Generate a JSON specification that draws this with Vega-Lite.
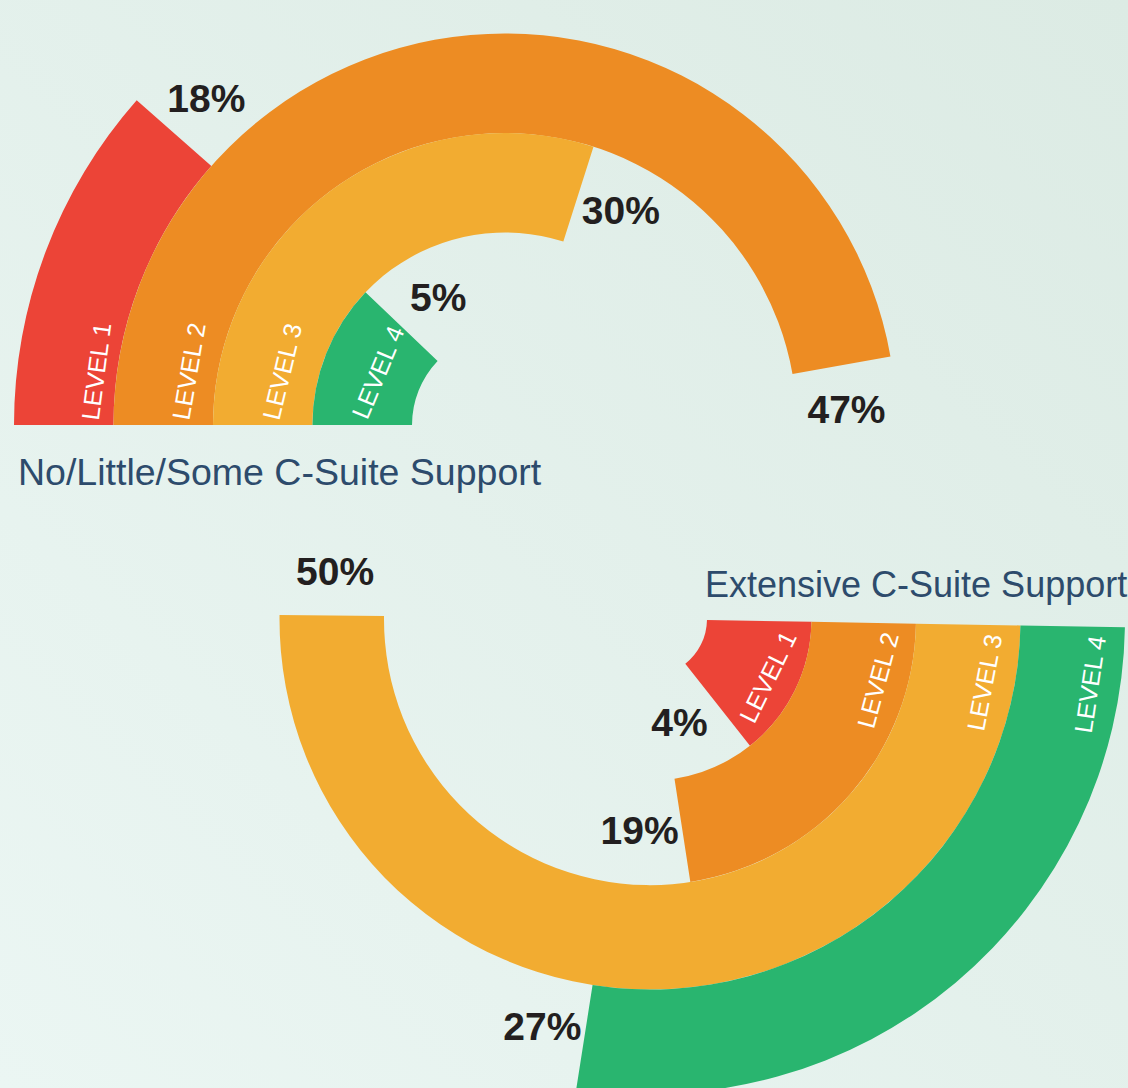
{
  "$schema": "https://vega.github.io/schema/vega-lite/v6.json",
  "width": 1128,
  "height": 1088,
  "padding": 0,
  "autosize": {"type": "none"},
  "background": "#e3f0eb",
  "config": {
    "view": {
      "stroke": null,
      "fill": {"gradient": "linear", "x1": 1, "y1": 0, "x2": 0, "y2": 1, "stops": [{"offset": 0, "color": "#dcebe4"}, {"offset": 1, "color": "#ebf6f3"}]}
    }
  },
  "datasets": {
    "levels": [
      {"chart": "top", "level": 1, "pct": 18, "arc": 11.5},
      {"chart": "top", "level": 2, "pct": 47, "arc": 47.2},
      {"chart": "top", "level": 3, "pct": 30, "arc": 29.9},
      {"chart": "top", "level": 4, "pct": 5, "arc": 12.1},
      {"chart": "bottom", "level": 1, "pct": 4, "arc": 14.1},
      {"chart": "bottom", "level": 2, "pct": 19, "arc": 22.3},
      {"chart": "bottom", "level": 3, "pct": 50, "arc": 49.9},
      {"chart": "bottom", "level": 4, "pct": 27, "arc": 27.2}
    ]
  },
  "encoding": {
    "x": {"field": "chart", "type": "nominal", "scale": {"type": "point", "domain": ["top", "bottom"], "range": [505, 650], "padding": 0}, "axis": null},
    "y": {"field": "chart", "type": "nominal", "scale": {"type": "point", "domain": ["top", "bottom"], "range": [425, 619], "padding": 0}, "axis": null}
  },
  "layer": [
    {
      "data": {"name": "levels"},
      "transform": [
        {"filter": "datum.chart == 'top'"},
        {"calculate": "4 - datum.level", "as": "u"},
        {"calculate": "datum.u + 1", "as": "u1"},
        {"calculate": "datum.u + 0.5", "as": "um"},
        {"calculate": "datum.arc + 7.4 / (datum.u + 1.435)", "as": "labelPos"},
        {"calculate": "datum.u + 0.44 - 0.08 * datum.u", "as": "lr"},
        {"calculate": "8.6 / (datum.lr + 0.935)", "as": "lt"},
        {"calculate": "-90 + 3.6 * datum.lt", "as": "la"},
        {"calculate": "datum.pct + '%'", "as": "pctText"},
        {"calculate": "'LEVEL ' + datum.level", "as": "levelText"}
      ],
      "layer": [
        {
          "mark": {"type": "arc", "stroke": null},
          "encoding": {
            "theta": {"field": "arc", "type": "quantitative", "stack": null, "scale": {"domain": [0, 100], "range": [-1.5708, 4.7124]}},
            "theta2": {"datum": 0},
            "radius": {"field": "u1", "type": "quantitative", "scale": {"type": "linear", "zero": false, "domain": [0, 4], "range": [93, 491]}},
            "radius2": {"field": "u"},
            "color": {"field": "level", "type": "nominal", "scale": {"domain": [1, 2, 3, 4], "range": ["#ec4437", "#ed8c23", "#f2ac31", "#29b56f"]}, "legend": null}
          }
        },
        {
          "mark": {"type": "text", "font": "Liberation Sans, Arial, sans-serif", "fontSize": 39, "fontWeight": "bold", "color": "#231f20", "align": "center", "baseline": "middle"},
          "encoding": {
            "theta": {"field": "labelPos", "type": "quantitative", "stack": null},
            "radius": {"field": "um", "type": "quantitative"},
            "text": {"field": "pctText"}
          }
        },
        {
          "mark": {"type": "text", "font": "Liberation Sans, Arial, sans-serif", "fontSize": 25, "color": "#ffffff", "align": "center", "baseline": "middle"},
          "encoding": {
            "theta": {"field": "lt", "type": "quantitative", "stack": null},
            "radius": {"field": "lr", "type": "quantitative"},
            "angle": {"field": "la", "type": "quantitative", "scale": null},
            "text": {"field": "levelText"}
          }
        }
      ]
    },
    {
      "data": {"name": "levels"},
      "transform": [
        {"filter": "datum.chart == 'bottom'"},
        {"calculate": "datum.level - 1", "as": "u"},
        {"calculate": "datum.u + 1", "as": "u1"},
        {"calculate": "datum.u + 0.5", "as": "um"},
        {"calculate": "datum.arc + 6.55 / (datum.u + 1.045)", "as": "labelPos"},
        {"calculate": "datum.u + 0.72", "as": "lr"},
        {"calculate": "8.833 / (datum.lr + 0.545)", "as": "lt"},
        {"calculate": "-89 + 3.6 * datum.lt", "as": "la"},
        {"calculate": "datum.pct + '%'", "as": "pctText"},
        {"calculate": "'LEVEL ' + datum.level", "as": "levelText"}
      ],
      "layer": [
        {
          "mark": {"type": "arc", "stroke": null},
          "encoding": {
            "theta": {"field": "arc", "type": "quantitative", "stack": null, "scale": {"domain": [0, 100], "range": [1.5882, 7.8714]}},
            "theta2": {"datum": 0},
            "radius": {"field": "u1", "type": "quantitative", "scale": {"type": "linear", "zero": false, "domain": [0, 4], "range": [57, 475]}},
            "radius2": {"field": "u"},
            "color": {"field": "level", "type": "nominal", "scale": {"domain": [1, 2, 3, 4], "range": ["#ec4437", "#ed8c23", "#f2ac31", "#29b56f"]}, "legend": null}
          }
        },
        {
          "mark": {"type": "text", "font": "Liberation Sans, Arial, sans-serif", "fontSize": 39, "fontWeight": "bold", "color": "#231f20", "align": "center", "baseline": "middle"},
          "encoding": {
            "theta": {"field": "labelPos", "type": "quantitative", "stack": null},
            "radius": {"field": "um", "type": "quantitative"},
            "text": {"field": "pctText"}
          }
        },
        {
          "mark": {"type": "text", "font": "Liberation Sans, Arial, sans-serif", "fontSize": 25, "color": "#ffffff", "align": "center", "baseline": "middle"},
          "encoding": {
            "theta": {"field": "lt", "type": "quantitative", "stack": null},
            "radius": {"field": "lr", "type": "quantitative"},
            "angle": {"field": "la", "type": "quantitative", "scale": null},
            "text": {"field": "levelText"}
          }
        }
      ]
    },
    {
      "data": {"values": [{"chart": "top", "title": "No/Little/Some C-Suite Support"}]},
      "mark": {"type": "text", "font": "Liberation Sans, Arial, sans-serif", "fontSize": 37.5, "color": "#2d4b6c", "align": "left", "baseline": "alphabetic", "dx": -487, "dy": 60},
      "encoding": {"text": {"field": "title"}}
    },
    {
      "data": {"values": [{"chart": "bottom", "title": "Extensive C-Suite Support"}]},
      "mark": {"type": "text", "font": "Liberation Sans, Arial, sans-serif", "fontSize": 36, "color": "#2d4b6c", "align": "left", "baseline": "alphabetic", "dx": 55, "dy": -22},
      "encoding": {"text": {"field": "title"}}
    }
  ],
  "resolve": {"scale": {"theta": "independent", "radius": "independent"}}
}
